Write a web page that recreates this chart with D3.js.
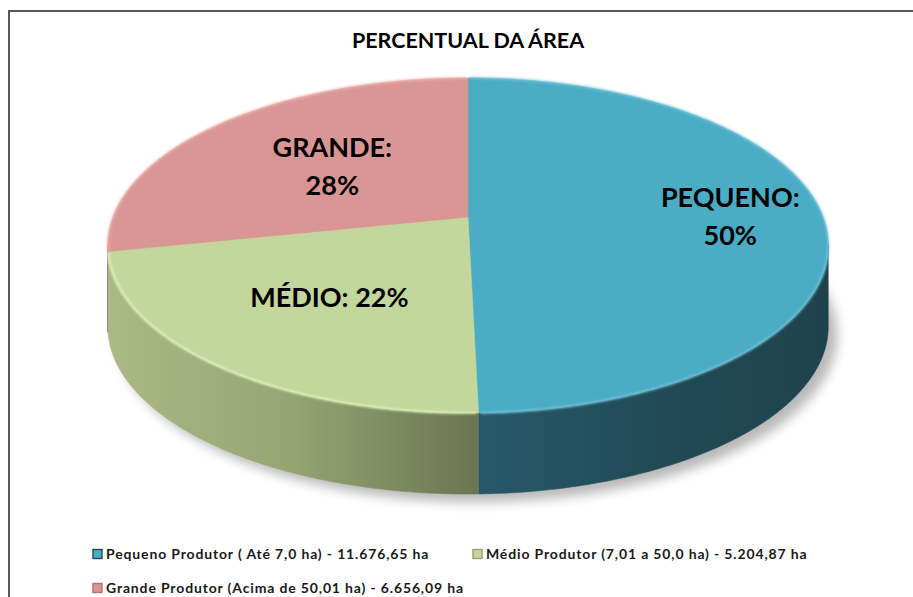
<!DOCTYPE html>
<html><head><meta charset="utf-8">
<script src="https://cdn.jsdelivr.net/npm/d3@7/dist/d3.min.js"></script>
<style>html,body{margin:0;padding:0;background:#fff;overflow:hidden}</style>
</head><body><svg id="c" width="913" height="597"></svg>
<script>
// ---- data ----
const chartTitle = "PERCENTUAL DA ÁREA";
const categories = ["Pequeno Produtor ( Até 7,0 ha)", "Médio Produtor (7,01 a 50,0 ha)", "Grande Produtor (Acima de 50,01 ha)"];
const shortLabels = ["PEQUENO", "MÉDIO", "GRANDE"];
const areas = [11676.65, 5204.87, 6656.09];

// ---- styles / layout ----
const topColors = ["#4BACC6", "#C3D69B", "#D99694"];
const rimColors = ["#7cc6da", "#eaf8c4", "#efb9b7"];
const sideStops = [
  ["#27596a", "#214b57", "#1e424c"],
  ["#abba84", "#95a472", "#6b7553"],
  ["#c98a88", "#b07573", "#8f5d5b"]
];
const labelLayout = [{r: 0.74, wrap: true}, {r: 0.58, wrap: false}, {r: 0.52, wrap: true}];
const legendLayout = [{x: 93, y: 554}, {x: 473, y: 554}, {x: 93, y: 588}];

const W = 913, H = 597;
const CX = 468, CY = 217, A = 162.7, B = 355, K = 0.17, DEPTH = 81;
const FONT = "Lato, 'Open Sans', sans-serif";

const svg = d3.select("#c");
const defs = svg.append("defs");
svg.append("rect").attr("width", W).attr("height", H).attr("fill", "#fff");
svg.append("rect").attr("x", 9).attr("y", 11).attr("width", W + 20).attr("height", H + 20)
  .attr("fill", "none").attr("stroke", "#595959").attr("stroke-width", 2);

svg.append("text").attr("x", CX).attr("y", 48).attr("text-anchor", "middle")
  .attr("font-family", FONT).attr("font-weight", 700)
  .attr("font-size", 21.5).attr("fill", "#000").text(chartTitle);

function proj(theta, r, level) {
  const X = r * Math.sin(theta), Z = -r * Math.cos(theta);
  const w = 1 - K * Z;
  return [CX + B * X / w, CY + A * Z / w + level * DEPTH];
}
function arcPts(a0, a1, level) {
  const n = Math.max(2, Math.ceil(Math.abs(a1 - a0) / 0.01));
  return d3.range(n + 1).map(i => proj(a0 + (a1 - a0) * i / n, 1, level));
}
const line = d3.line();

const arcs = d3.pie().sort(null).value(d => d)(areas);
const total = d3.sum(areas);

// filters
const blur = defs.append("filter").attr("id", "sh").attr("x", "-20%").attr("y", "-20%").attr("width", "140%").attr("height", "140%");
blur.append("feGaussianBlur").attr("stdDeviation", 6);
const soft = defs.append("filter").attr("id", "soft").attr("x", "-10%").attr("y", "-10%").attr("width", "120%").attr("height", "120%");
soft.append("feGaussianBlur").attr("stdDeviation", 0.8);

// shadow
const fullBottom = arcPts(0, 2 * Math.PI, 1);
svg.append("path").attr("d", line(fullBottom) + "Z")
  .attr("transform", "translate(9,8)")
  .attr("fill", "#000").attr("opacity", 0.28).attr("filter", "url(#sh)");

// side gradients
arcs.forEach((d, i) => {
  const p0 = proj(d.startAngle, 1, 0), p1 = proj(d.endAngle, 1, 0);
  const g = defs.append("linearGradient").attr("id", "side" + i).attr("gradientUnits", "userSpaceOnUse")
    .attr("x1", i === 0 ? p1[0] : 108).attr("x2", i === 0 ? 830 : p0[0]).attr("y1", 0).attr("y2", 0);
  sideStops[i].forEach((c, j) => g.append("stop").attr("offset", j / (sideStops[i].length - 1)).attr("stop-color", c));
});

// side walls: visible between the silhouette tangents (cos θ = -K)
const tang = Math.acos(-K);
const lo = tang - 0.01, hi = 2 * Math.PI - tang + 0.01;
arcs.forEach((d, i) => {
  const a0 = Math.max(d.startAngle, lo), a1 = Math.min(d.endAngle, hi);
  if (a1 <= a0) return;
  const top = arcPts(a0, a1, 0), bot = arcPts(a1, a0, 1);
  svg.append("path").attr("d", line(top.concat(bot)) + "Z")
    .attr("fill", `url(#side${i})`).attr("stroke", `url(#side${i})`).attr("stroke-width", 0.6);
});

// top faces
arcs.forEach((d, i) => {
  const pts = [[CX, CY]].concat(arcPts(d.startAngle, d.endAngle, 0));
  svg.append("path").attr("d", line(pts) + "Z").attr("fill", topColors[i])
    .attr("stroke", topColors[i]).attr("stroke-width", 0.6);
});
// rim highlight
arcs.forEach((d, i) => {
  svg.append("path").attr("d", line(arcPts(d.startAngle + 0.005, d.endAngle - 0.005, 0)))
    .attr("fill", "none").attr("stroke", rimColors[i]).attr("stroke-width", 2.2)
    .attr("opacity", 0.85).attr("filter", "url(#soft)");
});

// labels
const pct = d3.format(".0%");
arcs.forEach((d, i) => {
  const mid = (d.startAngle + d.endAngle) / 2;
  const [x, y] = proj(mid, labelLayout[i].r, 0);
  const t = svg.append("text").attr("text-anchor", "middle")
    .attr("font-family", FONT).attr("font-weight", 700)
    .attr("font-size", 27).attr("fill", "#000");
  const p = pct(d.value / total);
  if (labelLayout[i].wrap) {
    t.append("tspan").attr("x", x).attr("y", y - 9).text(shortLabels[i] + ":");
    t.append("tspan").attr("x", x).attr("y", y + 29).text(p);
  } else {
    t.append("tspan").attr("x", x).attr("y", y + 10).text(shortLabels[i] + ": " + p);
  }
});

// legend
const loc = d3.formatLocale({decimal: ",", thousands: ".", grouping: [3], currency: ["R$", ""]});
const num = loc.format(",.2f");
categories.forEach((c, i) => {
  const L = legendLayout[i];
  const g = svg.append("g");
  g.append("rect").attr("x", L.x).attr("y", L.y - 4.5).attr("width", 9).attr("height", 9)
    .attr("fill", topColors[i]).attr("stroke", sideStops[i][1]).attr("stroke-width", 1.4);
  g.append("text").attr("x", L.x + 13).attr("y", L.y + 5)
    .attr("font-family", FONT).attr("font-weight", 700)
    .attr("font-size", 14).attr("letter-spacing", 0.85).attr("fill", "#1a1a1a")
    .text(`${c} - ${num(areas[i])} ha`);
});
</script></body></html>
